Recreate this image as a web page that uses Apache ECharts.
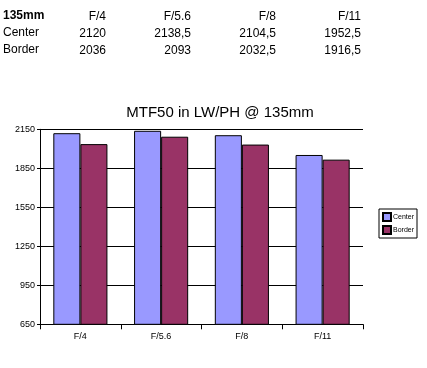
<!DOCTYPE html>
<html><head><meta charset="utf-8">
<script src="https://cdn.jsdelivr.net/npm/echarts@6/dist/echarts.min.js"></script>
<style>html,body{margin:0;padding:0;background:#fff}#c{width:427px;height:368px}</style>
</head><body><div id="c"></div>
<script>
var categories = ['F/4', 'F/5.6', 'F/8', 'F/11'];
var centerValues = [2120, 2138.5, 2104.5, 1952.5];
var borderValues = [2036, 2093, 2032.5, 1916.5];
var seriesNames = ['Center', 'Border'];
var lensLabel = '135mm';
var chartTitle = 'MTF50 in LW/PH @ 135mm';

function fmt(v){ return String(v).replace('.', ','); }

var FONT = '"Liberation Sans", Arial, sans-serif';
var colX = [106, 191, 276, 361];
var rowY = [17, 34, 51];
var graphics = [];
graphics.push({type:'text', left:3, top:rowY[0]-7, style:{text:lensLabel, font:'bold 12px ' + FONT, fill:'#000'}});
graphics.push({type:'text', left:3, top:rowY[1]-7, style:{text:seriesNames[0], font:'12px ' + FONT, fill:'#000'}});
graphics.push({type:'text', left:3, top:rowY[2]-7, style:{text:seriesNames[1], font:'12px ' + FONT, fill:'#000'}});
var rows = [categories, centerValues.map(fmt), borderValues.map(fmt)];
rows.forEach(function(r, ri){
  r.forEach(function(t, ci){
    graphics.push({type:'text', x:colX[ci], y:rowY[ri], style:{text:t, font:'12px ' + FONT, fill:'#000', align:'right', verticalAlign:'middle'}});
  });
});

var chart = echarts.init(document.getElementById('c'));
chart.setOption({
  animation:false,
  backgroundColor:'#fff',
  textStyle:{fontFamily:FONT},
  graphic: graphics,
  title:{text:chartTitle, left:215, textAlign:'center', top:100, textStyle:{fontSize:15, fontWeight:'normal', color:'#000', fontFamily:FONT}},
  legend:{
    orient:'vertical', left:379, top:209, padding:[3,3,3,3], itemGap:3, icon:'rect',
    itemWidth:8, itemHeight:8, borderColor:'#000', borderWidth:1,
    textStyle:{fontSize:7, color:'#000', fontFamily:FONT, padding:[0,0,0,-3]},
    data:seriesNames
  },
  grid:{left:40, right:64, top:129.3, bottom:43.7, containLabel:false},
  xAxis:{
    type:'category', data:categories,
    axisLine:{lineStyle:{color:'#000', width:1}},
    axisTick:{show:true, length:5, lineStyle:{color:'#000'}},
    axisLabel:{fontSize:9, color:'#000', margin:8, fontFamily:FONT},
    splitLine:{show:false}
  },
  yAxis:{
    type:'value', min:650, max:2150, interval:300,
    axisLine:{show:true, lineStyle:{color:'#000', width:1}},
    axisTick:{show:true, length:3, lineStyle:{color:'#000'}},
    axisLabel:{fontSize:9, color:'#000', margin:5, fontFamily:FONT, formatter:function(v){return String(v);}},
    splitLine:{show:true, lineStyle:{color:'#000', width:1}}
  },
  series:[
    {name:seriesNames[0], type:'bar', data:centerValues, barGap:'0%', barCategoryGap:'33%',
     itemStyle:{color:'#9999FF', borderColor:'#000', borderWidth:1}},
    {name:seriesNames[1], type:'bar', data:borderValues, barGap:'0%', barCategoryGap:'33%',
     itemStyle:{color:'#993366', borderColor:'#000', borderWidth:1}}
  ]
});
</script></body></html>
